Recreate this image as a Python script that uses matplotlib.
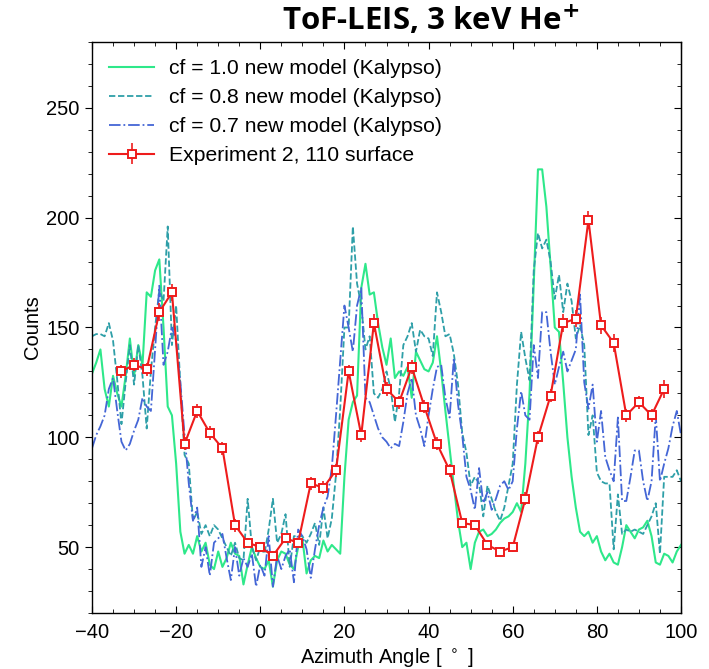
import numpy as np
import matplotlib
matplotlib.use("Agg")
import matplotlib.pyplot as plt
from matplotlib.ticker import MultipleLocator

# ---------------- data ----------------
sim_angle = np.arange(-40, 101, 1)

cf10 = [129, 134, 140, 122, 114, 128, 120, 114, 128, 145, 128, 142, 133, 166, 164, 176, 181, 150, 114, 110,
        88, 57, 47, 51, 47, 55, 48, 52, 42, 40, 48, 41, 45, 52, 47, 46, 33, 42, 50, 45,
        41, 40, 44, 32, 44, 48, 47, 42, 40, 50, 54, 38, 44, 46, 45, 53, 48, 51, 49, 47,
        82, 108, 116, 119, 168, 179, 165, 166, 152, 141, 133, 145, 127, 130, 128, 132, 118, 139, 135, 131,
        130, 134, 146, 130, 112, 95, 78, 62, 50, 52, 40, 52, 57, 58, 55, 56, 58, 61, 63, 64,
        66, 70, 66, 88, 120, 170, 222, 222, 205, 178, 150, 148, 125, 100, 82, 68, 57, 55, 57, 52,
        55, 48, 44, 47, 43, 42, 50, 60, 57, 54, 58, 59, 62, 55, 43, 42, 47, 46, 43, 48, 51]

cf08 = [146, 147, 147, 146, 152, 144, 126, 106, 125, 142, 124, 142, 128, 104, 130, 150, 167, 162, 196, 142,
        160, 124, 92, 88, 62, 66, 56, 60, 55, 60, 58, 54, 50, 46, 52, 45, 44, 72, 50, 44,
        50, 47, 58, 72, 52, 56, 65, 41, 55, 55, 55, 52, 56, 61, 51, 68, 54, 63, 83, 113,
        150, 150, 196, 170, 160, 140, 146, 120, 118, 122, 130, 122, 107, 120, 142, 146, 152, 139, 149, 146,
        145, 137, 166, 157, 146, 147, 138, 124, 102, 93, 78, 82, 79, 64, 78, 72, 66, 62, 68, 78,
        88, 124, 148, 136, 126, 176, 193, 186, 190, 180, 163, 174, 157, 170, 162, 145, 151, 142, 101, 110,
        84, 80, 79, 79, 49, 74, 56, 58, 57, 58, 57, 56, 60, 64, 70, 47, 82, 82, 82, 85, 80]

cf07 = [95, 101, 105, 110, 122, 127, 112, 98, 94, 97, 103, 108, 118, 114, 112, 140, 169, 133, 139, 150,
        144, 125, 101, 79, 62, 68, 41, 50, 37, 52, 54, 56, 45, 35, 50, 37, 45, 41, 47, 32,
        42, 37, 55, 32, 46, 40, 46, 49, 34, 58, 55, 49, 36, 49, 60, 68, 73, 86, 110, 135,
        160, 150, 139, 160, 168, 118, 116, 110, 104, 100, 98, 95, 97, 96, 107, 120, 127, 110, 104, 96,
        110, 122, 132, 133, 118, 109, 136, 115, 101, 82, 76, 67, 86, 70, 75, 67, 72, 78, 80, 76,
        80, 104, 121, 110, 108, 142, 127, 157, 157, 139, 124, 132, 139, 130, 135, 140, 165, 125, 113, 124,
        98, 112, 91, 85, 80, 109, 71, 71, 82, 94, 94, 80, 71, 80, 110, 80, 88, 95, 105, 112, 101]

exp_angle = [-33, -30, -27, -24, -21, -18, -15, -12, -9, -6, -3, 0, 3, 6, 9, 12, 15, 18, 21, 24, 27, 30,
             33, 36, 39, 42, 45, 48, 51, 54, 57, 60, 63, 66, 69, 72, 75, 78, 81, 84, 87, 90, 93, 96]
exp_counts = [130, 133, 131, 157, 166, 97, 112, 102, 95, 60, 52, 50, 46, 54, 52, 79, 77, 85, 130, 101,
              152, 122, 116, 132, 114, 97, 85, 61, 60, 51, 48, 50, 72, 100, 119, 152, 154, 199, 151, 143,
              110, 116, 110, 122]
exp_err = [3, 3, 3, 4, 4, 3, 3, 3, 3, 3, 2, 2, 2, 2, 2, 3, 3, 3, 3, 3,
           4, 3, 3, 3, 3, 3, 3, 2, 2, 2, 2, 2, 3, 3, 3, 4, 4, 4, 4, 4,
           3, 3, 3, 4]

# ---------------- plot ----------------
plt.rcParams['font.family'] = ['Liberation Sans', 'DejaVu Sans']
fig = plt.figure(figsize=(7.09, 6.69), dpi=100)
ax = fig.add_axes([92/709, 1-613/669, (681-92)/709, (613-42)/669])

ax.plot(sim_angle, cf10, color='#2ee88a', lw=1.5, ls='-', label='cf = 1.0 new model (Kalypso)')
ax.plot(sim_angle, cf08, color='#2e9fa8', lw=1.3, ls='--', dashes=(3.5, 1.5), label='cf = 0.8 new model (Kalypso)')
ax.plot(sim_angle, cf07, color='#4466d6', lw=1.3, ls='-.', label='cf = 0.7 new model (Kalypso)')
ax.errorbar(exp_angle, exp_counts, yerr=exp_err, color='#ee1c1c', lw=1.5, marker='s', ms=5.5,
            mfc='white', mec='#ee1c1c', mew=1.4, capsize=0, elinewidth=1.2,
            label='Experiment 2, 110 surface')

ax.set_xlim(-40, 100)
ax.set_ylim(20, 280)
ax.xaxis.set_major_locator(MultipleLocator(20))
ax.xaxis.set_minor_locator(MultipleLocator(5))
ax.yaxis.set_major_locator(MultipleLocator(50))
ax.yaxis.set_minor_locator(MultipleLocator(10))
ax.tick_params(axis='x', which='both', direction='in', top=True, bottom=True, labelsize=14.5)
ax.tick_params(axis='x', which='major', length=5, pad=7)
ax.tick_params(axis='x', which='minor', length=3)
ax.tick_params(axis='y', which='both', direction='out', left=True, right=False, labelsize=14.5)
ax.tick_params(axis='y', which='major', length=5, pad=4)
ax.tick_params(axis='y', which='minor', length=3)

sec = ax.secondary_yaxis('right')
sec.yaxis.set_major_locator(MultipleLocator(50))
sec.yaxis.set_minor_locator(MultipleLocator(10))
sec.tick_params(which='both', direction='in', labelright=False)
sec.tick_params(which='major', length=5)
sec.tick_params(which='minor', length=3)

for s in ax.spines.values():
    s.set_linewidth(1.0)

ax.set_xlabel('Azimuth Angle [ $^\\circ$ ]', fontsize=14.5, labelpad=3)
ax.set_ylabel('Counts', fontsize=14.5, labelpad=3)

leg = ax.legend(loc='upper left', frameon=False, fontsize=15.2, handlelength=2.15,
                labelspacing=0.48, borderaxespad=0.4, handletextpad=0.7)

fig.text(431/709, 1-20/669, 'ToF-LEIS, 3 keV He$^{\\mathbf{+}}$', ha='center', va='center',
         fontsize=22.5, fontweight='bold', family=['Open Sans', 'DejaVu Sans'])

fig.savefig('out.png', dpi=100)
